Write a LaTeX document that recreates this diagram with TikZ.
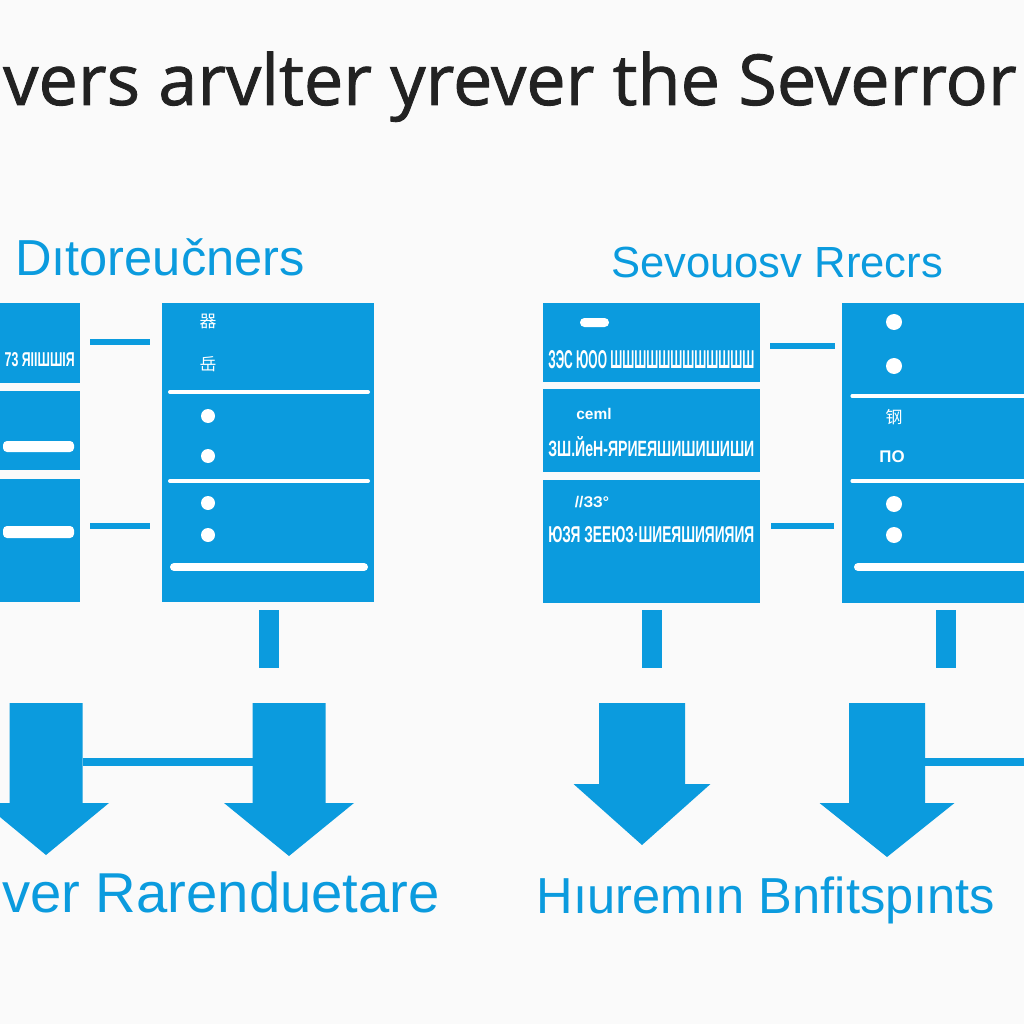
\documentclass[tikz,border=0pt]{standalone}
\usepackage{fontspec}
\usepackage{graphicx}
\setmainfont{Liberation Sans}
\newfontfamily\titlefont[FakeBold=1.2]{Open Sans}
\newfontfamily\cjk{Noto Sans CJK SC}
\usetikzlibrary{positioning,calc}
\definecolor{azure}{HTML}{0B9BDE}
\definecolor{ink}{HTML}{222222}
\definecolor{paper}{HTML}{FAFAFA}
\tikzset{
  panel/.style={fill=azure, draw=none, inner sep=0pt, outer sep=0pt},
  link/.style={azure, line width=1.5mm},
  stub/.style={azure, line width=5mm},
  rule/.style={white, line width=1mm, line cap=round},
  dot/.style={circle, fill=white, inner sep=0pt, minimum size=3.5mm},
  scribble/.style={text=white, font=\bfseries, inner sep=0pt},
  head/.style={text=azure, inner sep=0pt, anchor=base},
}
\begin{document}
\begin{tikzpicture}[x=0.25mm, y=-0.25mm]
\useasboundingbox (0,0) rectangle (1024,1024);
\clip (0,0) rectangle (1024,1024);
\fill[paper] (0,0) rectangle (1024,1024);

% --- HEADINGS ---
\node[head, text=ink, font=\titlefont\fontsize{50}{58}\selectfont] (title) at (510,105) {vers arvlter yrever the Severror};
\node[head, font=\fontsize{36}{42}\selectfont] (ldesc) at (160,276) {Dıtoreučners};
\node[head, font=\fontsize{31}{36}\selectfont] (rdesc) at (777,277) {Sevouosv Rrecrs};

% --- LEFT GROUP ---
\node[panel, minimum width=25mm, minimum height=20mm] (la1) at (30,343) {};
\node[panel, minimum width=25mm, minimum height=19.75mm] (la2) [below=2mm of la1] {};
\node[panel, minimum width=25mm, minimum height=30.75mm] (la3) [below=2.25mm of la2] {};
\node[panel, minimum width=53mm, minimum height=74.75mm] (lb) at (268,452.5) {};

\node[scribble, anchor=east] (la1txt) at (75,360) {\resizebox{17.5mm}{3.5mm}{73 ЯIIШШIЯ}};
\fill[white, rounded corners=1mm] (3,441) rectangle (74,452);
\fill[white, rounded corners=1mm] (3,526) rectangle (74,538);

\draw[link, shorten <=2.5mm, shorten >=3mm] ([yshift=0.25mm]la1.east) -- ([yshift=0.25mm]la1.east -| lb.west);
\draw[link, shorten <=2.5mm, shorten >=3mm] ([yshift=3.75mm]la3.east) -- ([yshift=3.75mm]la3.east -| lb.west);

\draw[rule] (170,392) -- (368,392);
\draw[rule] (170,481) -- (368,481);
\draw[rule, line width=2mm] (174,567) -- (364,567);
\node[scribble, font=\cjk\fontsize{12}{12}\selectfont] (lg1) at (208,321) {器};
\node[scribble, font=\cjk\fontsize{12}{12}\selectfont] (lg2) at (208,364) {岳};
\foreach \y in {416,456,503,535}
  \node[dot] at (208,\y) {};

\coordinate (lbfoot) at ($(lb.south)+(1,66)$);
\draw[stub, shorten <=2mm] ([xshift=0.25mm]lb.south) -- (lbfoot);

% --- RIGHT GROUP ---
\node[panel, minimum width=54.25mm, minimum height=19.75mm] (ra1) at (651.5,342.5) {};
\node[panel, minimum width=54.25mm, minimum height=20.75mm] (ra2) [below=1.75mm of ra1] {};
\node[panel, minimum width=54.25mm, minimum height=30.75mm] (ra3) [below=2mm of ra2] {};
\node[panel, minimum width=52mm, minimum height=75mm] (rb) at (946,453) {};

\fill[white, rounded corners=1.1mm] (580,318) rectangle (609,327);
\node[scribble, anchor=west] (ra1txt) at (548,360) {\resizebox{51.5mm}{4.5mm}{ЗЭС ЮОО ШШШШШШШШШШШШ}};
\node[scribble, font=\bfseries\fontsize{11}{11}\selectfont] (ra2cap) at (594,414) {ceml};
\node[scribble, anchor=west] (ra2txt) at (548,447) {\resizebox{51.5mm}{5mm}{ЗШ.ЙеН-ЯРИЕЯШИШИШИШИ}};
\node[scribble, font=\bfseries\fontsize{11}{11}\selectfont] (ra3cap) at (592,502) {//ЗЗ°};
\node[scribble, anchor=west] (ra3txt) at (548,535) {\resizebox{51.5mm}{4mm}{ЮЗЯ ЗЕЕЮЗ·ШИЕЯШИЯИЯИЯ}};

\draw[link, shorten <=2.5mm, shorten >=1.75mm] ([yshift=-0.9mm]ra1.east) -- ([yshift=-0.9mm]ra1.east -| rb.west);
\draw[link, shorten <=2.75mm, shorten >=2mm] ([yshift=3.9mm]ra3.east) -- ([yshift=3.9mm]ra3.east -| rb.west);

\draw[rule, line width=0.8mm] (852,396) -- (1030,396);
\draw[rule, line width=0.8mm] (852,481) -- (1030,481);
\draw[rule, line width=2mm] (858,567) -- (1030,567);
\foreach \y in {322,366,504,535}
  \node[dot, minimum size=4mm] at (894,\y) {};
\node[scribble, font=\cjk\fontsize{12}{12}\selectfont] (rg1) at (894,417) {钢};
\node[scribble, font=\bfseries\fontsize{12}{12}\selectfont] (rg2) at (892,457) {ПО};

\coordinate (ra3foot) at ($(ra3.south)+(0,65)$);
\coordinate (rbfoot) at ($(rb.south)+(0,65)$);
\draw[stub, shorten <=1.75mm] (ra3.south) -- (ra3foot);
\draw[stub, shorten <=1.75mm] (rb.south) -- (rbfoot);

% --- BLOCK ARROWS ---
\foreach \nm/\cx/\sw/\hw/\sb/\tp in {al/46/73/126/803/855, ar/289/73/130/803/856,
                                     bl/642/86/137/784/845, br/887/76/135/803/857}{
  \fill[azure] (\cx-\sw/2,703) -- (\cx+\sw/2,703) -- (\cx+\sw/2,\sb) -- (\cx+\hw/2,\sb)
    -- (\cx,\tp) -- (\cx-\hw/2,\sb) -- (\cx-\sw/2,\sb) -- cycle;
  \coordinate (\nm-w) at (\cx-\sw/2,761.5);
  \coordinate (\nm-e) at (\cx+\sw/2,761.5);
}
\coordinate (edge) at (1030,761.5);
\draw[link, line width=2mm] (al-e) -- (ar-w);
\draw[link, line width=2mm] (br-e) -- (edge);

% --- FOOTERS ---
\node[head, font=\fontsize{40}{46}\selectfont] (lfoot) at (221,912) {ver Rarenduetare};
\node[head, font=\fontsize{36}{42}\selectfont] (rfoot) at (766,913) {Hıuremın Bnfitspınts};

\end{tikzpicture}
\end{document}
